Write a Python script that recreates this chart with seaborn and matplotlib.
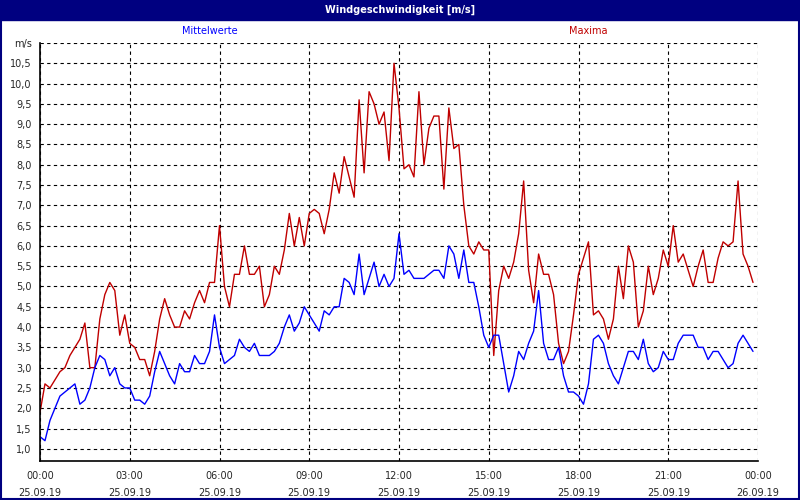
import numpy as np
import pandas as pd
import matplotlib
matplotlib.use("Agg")
import matplotlib.pyplot as plt
import seaborn as sns
from matplotlib.patches import Rectangle

# 10-minute values, 25.09.19 00:00 .. 23:50
maxima = [
    1.9, 2.6, 2.5, 2.7, 2.9, 3.0,
    3.3, 3.5, 3.7, 4.1, 3.0, 3.0,
    4.2, 4.8, 5.1, 4.9, 3.8, 4.3,
    3.6, 3.5, 3.2, 3.2, 2.8, 3.4,
    4.2, 4.7, 4.3, 4.0, 4.0, 4.4,
    4.2, 4.6, 4.9, 4.6, 5.1, 5.1,
    6.5, 5.0, 4.5, 5.3, 5.3, 6.0,
    5.3, 5.3, 5.5, 4.5, 4.8, 5.5,
    5.3, 5.9, 6.8, 6.0, 6.7, 6.0,
    6.8, 6.9, 6.8, 6.3, 6.9, 7.8,
    7.3, 8.2, 7.7, 7.2, 9.6, 7.8,
    9.8, 9.5, 9.0, 9.3, 8.1, 10.5,
    9.4, 7.9, 8.0, 7.7, 9.8, 8.0,
    8.9, 9.2, 9.2, 7.4, 9.4, 8.4,
    8.5, 7.0, 6.0, 5.8, 6.1, 5.9,
    5.9, 3.3, 4.9, 5.5, 5.2, 5.6,
    6.3, 7.6, 5.4, 4.6, 5.8, 5.3,
    5.3, 4.8, 3.6, 3.1, 3.4, 4.3,
    5.3, 5.7, 6.1, 4.3, 4.4, 4.2,
    3.7, 4.2, 5.5, 4.7, 6.0, 5.6,
    4.0, 4.4, 5.5, 4.8, 5.2, 5.9,
    5.5, 6.5, 5.6, 5.8, 5.4, 5.0,
    5.5, 5.9, 5.1, 5.1, 5.7, 6.1,
    6.0, 6.1, 7.6, 5.8, 5.5, 5.1,
]
mittelwerte = [
    1.3, 1.2, 1.7, 2.0, 2.3, 2.4,
    2.5, 2.6, 2.1, 2.2, 2.5, 3.0,
    3.3, 3.2, 2.8, 3.0, 2.6, 2.5,
    2.5, 2.2, 2.2, 2.1, 2.3, 2.9,
    3.4, 3.1, 2.8, 2.6, 3.1, 2.9,
    2.9, 3.3, 3.1, 3.1, 3.4, 4.3,
    3.5, 3.1, 3.2, 3.3, 3.7, 3.5,
    3.4, 3.6, 3.3, 3.3, 3.3, 3.4,
    3.6, 4.0, 4.3, 3.9, 4.1, 4.5,
    4.3, 4.1, 3.9, 4.4, 4.3, 4.5,
    4.5, 5.2, 5.1, 4.8, 5.8, 4.8,
    5.2, 5.6, 5.0, 5.3, 5.0, 5.2,
    6.3, 5.3, 5.4, 5.2, 5.2, 5.2,
    5.3, 5.4, 5.4, 5.2, 6.0, 5.8,
    5.2, 5.9, 5.1, 5.1, 4.5, 3.8,
    3.5, 3.8, 3.8, 3.1, 2.4, 2.8,
    3.4, 3.2, 3.6, 3.9, 4.9, 3.6,
    3.2, 3.2, 3.5, 2.8, 2.4, 2.4,
    2.3, 2.1, 2.6, 3.7, 3.8, 3.6,
    3.1, 2.8, 2.6, 3.0, 3.4, 3.4,
    3.2, 3.7, 3.1, 2.9, 3.0, 3.4,
    3.2, 3.2, 3.6, 3.8, 3.8, 3.8,
    3.5, 3.5, 3.2, 3.4, 3.4, 3.2,
    3.0, 3.1, 3.6, 3.8, 3.6, 3.4,
]
x_labels = ["00:00\n25.09.19", "03:00\n25.09.19", "06:00\n25.09.19", "09:00\n25.09.19",
            "12:00\n25.09.19", "15:00\n25.09.19", "18:00\n25.09.19", "21:00\n25.09.19",
            "00:00\n26.09.19"]

hours = np.arange(len(maxima)) / 6.0
df = pd.DataFrame({"h": hours, "Maxima": maxima, "Mittelwerte": mittelwerte})

sns.set_theme(style="white", font="DejaVu Sans")
fig = plt.figure(figsize=(8, 5), dpi=100, facecolor="white")
ax = fig.add_axes([40/800, 39/500, 718/800, 418/500])

sns.lineplot(data=df, x="h", y="Maxima", ax=ax, color="#c00000", lw=1)
sns.lineplot(data=df, x="h", y="Mittelwerte", ax=ax, color="#0000ff", lw=1)

ax.set_xlim(0, 24)
ax.set_ylim(0.7, 11.0)
yt = np.arange(1.0, 11.01, 0.5)
ax.set_yticks(yt)
ax.set_yticklabels([f"{v:.1f}".replace(".", ",") for v in yt[:-1]] + ["m/s"], fontsize=7)
ax.set_xticks(np.arange(0, 25, 3))
ax.set_xticklabels(x_labels, fontsize=7, linespacing=1.9)
ax.set_xticks(np.arange(0, 25, 1), minor=True)
ax.tick_params(axis="x", which="both", direction="out", length=4, width=0.8, color="black", pad=3)
ax.tick_params(axis="y", length=0, pad=6)
ax.grid(True, color="black", linestyle=(0, (3, 3)), lw=0.8)
ax.set_xlabel("")
ax.set_ylabel("")
for side in ["left", "bottom"]:
    ax.spines[side].set_color("black")
    ax.spines[side].set_linewidth(1.2)
for side in ["top", "right"]:
    ax.spines[side].set_visible(False)

# title bar and frame
fig.patches.append(Rectangle((0, 480/500), 1, 20/500, transform=fig.transFigure,
                             color="#000080", zorder=0))
fig.patches.append(Rectangle((0.001, 0.002), 0.998, 0.996, transform=fig.transFigure,
                             fill=False, ec="#000080", lw=1.5))
fig.text(0.5, 490/500, "Windgeschwindigkeit [m/s]", color="white", fontsize=7,
         fontweight="bold", ha="center", va="center")
fig.text(210/800, 469/500, "Mittelwerte", color="#0000ff", fontsize=7, ha="center", va="center")
fig.text(588/800, 469/500, "Maxima", color="#c00000", fontsize=7, ha="center", va="center")

fig.savefig("out.png", dpi=100, facecolor="white")
